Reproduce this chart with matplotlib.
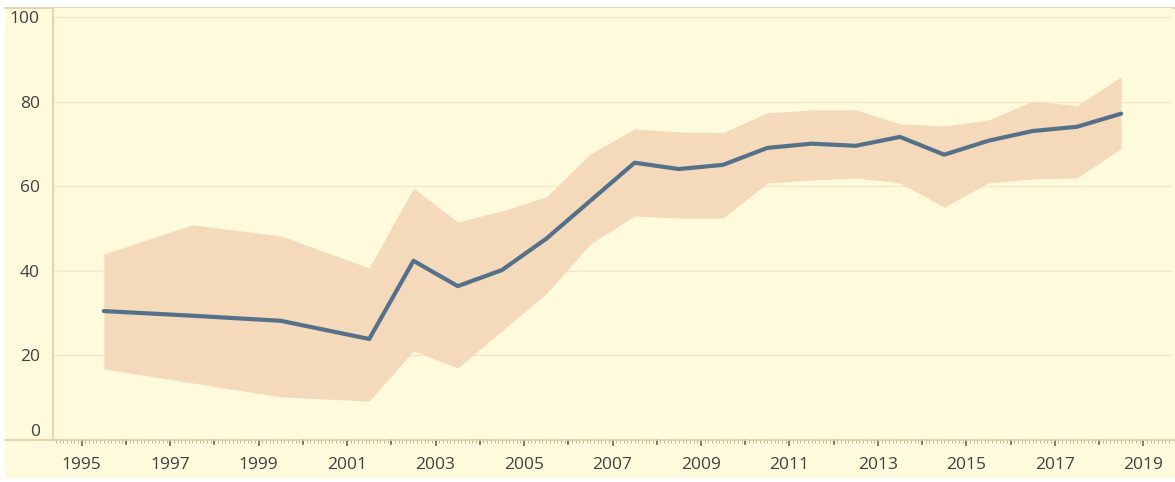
import matplotlib.pyplot as plt
from matplotlib.patches import Rectangle
from matplotlib.ticker import MultipleLocator

# values (points sit at mid-year)
years = [1995.5, 1997.5, 1999.5, 2001.5, 2002.5, 2003.5, 2004.5, 2005.5, 2006.5,
         2007.5, 2008.5, 2009.5, 2010.5, 2011.5, 2012.5, 2013.5, 2014.5, 2015.5,
         2016.5, 2017.5, 2018.5]
mean = [30.5, 29.4, 28.2, 23.9, 42.4, 36.4, 40.2, 47.6, 56.6, 65.6, 64.1, 65.1,
        69.1, 70.1, 69.6, 71.7, 67.5, 70.8, 73.1, 74.1, 77.2]
upper = [44.0, 50.9, 48.3, 40.7, 59.6, 51.6, 54.2, 57.5, 67.7, 73.6, 72.9, 72.7,
         77.4, 78.1, 78.1, 74.8, 74.3, 75.7, 80.2, 79.1, 85.9]
lower = [16.8, 13.5, 10.2, 9.2, 21.1, 17.0, 25.8, 34.6, 46.4, 53.0, 52.5, 52.5,
         60.8, 61.5, 62.0, 60.8, 55.1, 60.8, 61.8, 62.0, 68.9]
tick_years = list(range(1995, 2020, 2))

bg = "#FFFADC"
spine_col = "#E6CDA6"
text_col = "#404040"

plt.rcParams['font.family'] = ['Open Sans', 'DejaVu Sans']

fig = plt.figure(figsize=(11.75, 4.82), dpi=100)
fig.patch.set_facecolor("white")
fig.patches.append(Rectangle((5 / 1175, 4 / 482), 1170 / 1175, 471 / 482,
                             transform=fig.transFigure, facecolor=bg,
                             edgecolor="none", zorder=-5))
# top border line of the panel
fig.add_artist(plt.Line2D([5 / 1175, 1], [1 - 8 / 482, 1 - 8 / 482],
                          transform=fig.transFigure, color=spine_col, lw=1.2,
                          zorder=-4))
# bottom axis line running the full width
fig.add_artist(plt.Line2D([5 / 1175, 1], [1 - 440 / 482, 1 - 440 / 482],
                          transform=fig.transFigure, color=spine_col, lw=1.2,
                          zorder=-4))

ax = fig.add_axes([53 / 1175, 42 / 482, 1119 / 1175, 432 / 482])
ax.set_facecolor(bg)
ax.set_zorder(1)

ax.fill_between(years, lower, upper, color="#F5D9BB", lw=0, zorder=2)
ax.plot(years, mean, color="#547189", lw=3, solid_joinstyle="round",
        solid_capstyle="round", zorder=3)

ax.set_xlim(1994.35, 2019.65)
ax.set_ylim(0, 102.2)

ax.set_yticks([0, 20, 40, 60, 80, 100])
ax.grid(axis="y", color="#F7E6C6", lw=0.9, zorder=1)
ax.tick_params(axis="y", length=0, pad=9.5, labelsize=12.5, labelcolor=text_col)
ylabels = ax.get_yticklabels()
ylabels[0].set_va("bottom")

ax.set_xticks(tick_years)
ax.xaxis.set_minor_locator(MultipleLocator(1 / 12))
ax.tick_params(axis="x", which="major", length=4, width=1.2, color="#666666",
               pad=8, labelsize=12.5, labelcolor=text_col)
ax.tick_params(axis="x", which="minor", length=2, width=0.6, color="#AAAAAA")
# ticks at the odd years too
for yr in range(1996, 2020, 2):
    ax.axvline(yr, ymin=-0.01, ymax=0, color="#666666", lw=1.2, clip_on=False)

for side in ["top", "right"]:
    ax.spines[side].set_visible(False)
ax.spines["left"].set_color(spine_col)
ax.spines["left"].set_linewidth(1.2)
ax.spines["bottom"].set_color(spine_col)
ax.spines["bottom"].set_linewidth(1.2)

fig.savefig("out.png", dpi=100, facecolor=fig.get_facecolor())
